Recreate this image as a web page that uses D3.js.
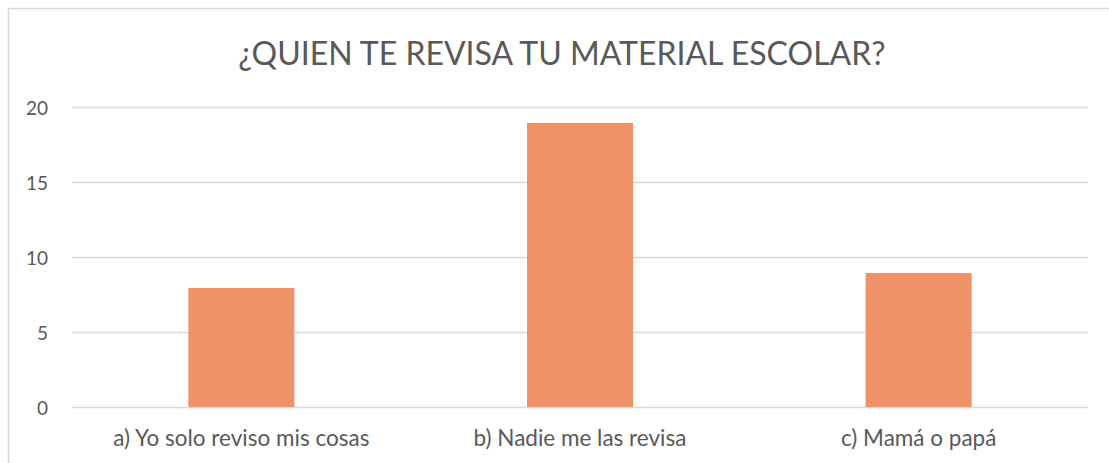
<!DOCTYPE html>
<html lang="es">
<head>
<meta charset="UTF-8">
<title>¿QUIEN TE REVISA TU MATERIAL ESCOLAR?</title>
<script src="https://cdn.jsdelivr.net/npm/d3@7"></script>
<style>
  body { margin: 0; padding: 0; overflow: hidden; background: #fff; }
  svg { display: block; }
  text { font-family: "Lato", "Open Sans", sans-serif; fill: #595959; }
</style>
</head>
<body>
<svg id="chart" width="1109" height="463"></svg>
<script>
  const categories = ["a) Yo solo reviso mis cosas", "b) Nadie me las revisa", "c) Mamá o papá"];
  const values = [8, 19, 9];
  const yTicks = [0, 5, 10, 15, 20];
  const title = "¿QUIEN TE REVISA TU MATERIAL ESCOLAR?";

  const svg = d3.select("#chart");
  const plotLeft = 72, plotRight = 1088, plotTop = 108, plotBottom = 408;

  // chart border (only top and left visible in the crop)
  svg.append("rect")
    .attr("x", 8.5).attr("y", 8.5)
    .attr("width", 1120).attr("height", 470)
    .attr("fill", "none").attr("stroke", "#d9d9d9").attr("stroke-width", 1.5);

  svg.append("text")
    .attr("x", 562).attr("y", 65)
    .attr("text-anchor", "middle")
    .attr("font-size", 32)
    .text(title);

  const x = d3.scaleBand().domain(categories).range([plotLeft, plotRight]).paddingInner(0.687).paddingOuter(0.3435);
  const y = d3.scaleLinear().domain([0, 20]).range([plotBottom, plotTop]);

  // gridlines
  svg.append("g").selectAll("line").data(yTicks).join("line")
    .attr("x1", plotLeft).attr("x2", plotRight)
    .attr("y1", d => Math.round(y(d)) - 0.5).attr("y2", d => Math.round(y(d)) - 0.5)
    .attr("stroke", "#d9d9d9").attr("stroke-width", 1.5);

  // y labels
  svg.append("g").selectAll("text").data(yTicks).join("text")
    .attr("x", 48).attr("y", d => y(d))
    .attr("dy", "0.35em")
    .attr("text-anchor", "end")
    .attr("font-size", 19)
    .text(d => d);

  // bars
  svg.append("g").selectAll("rect").data(values).join("rect")
    .attr("x", (d, i) => x(categories[i]))
    .attr("y", d => y(d))
    .attr("width", x.bandwidth())
    .attr("height", d => y(0) - y(d) - 1)
    .attr("fill", "#f09268");

  // x labels
  svg.append("g").selectAll("text").data(categories).join("text")
    .attr("x", d => x(d) + x.bandwidth() / 2)
    .attr("y", 446)
    .attr("text-anchor", "middle")
    .attr("font-size", 22.5)
    .text(d => d);
</script>
</body>
</html>
